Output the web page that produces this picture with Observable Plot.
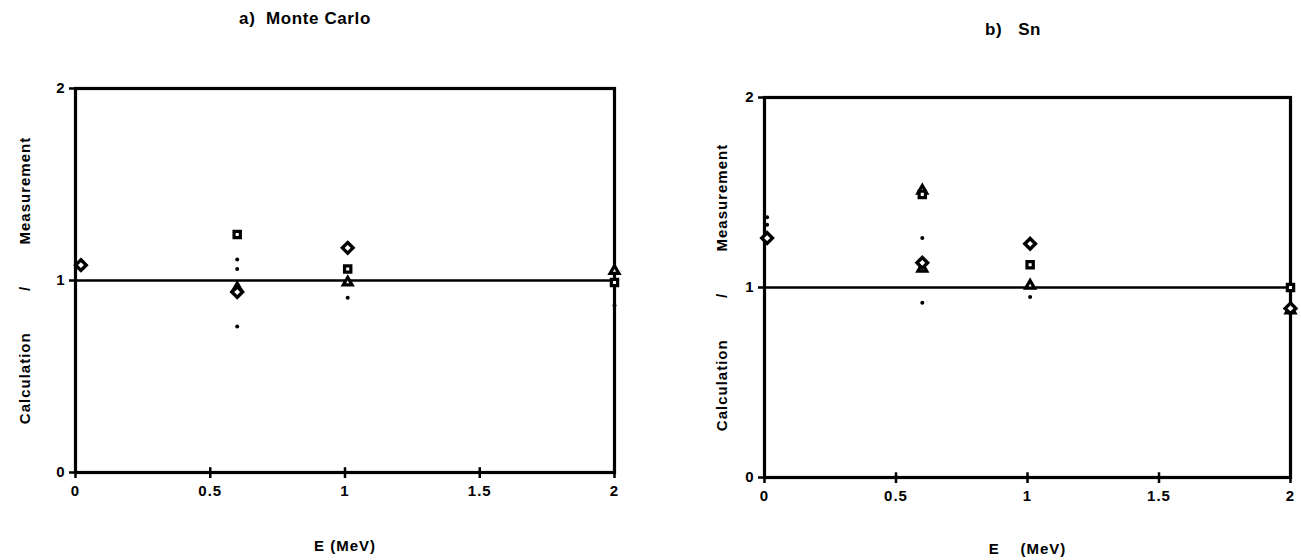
<!DOCTYPE html>
<html>
<head>
<meta charset="utf-8">
<script src="https://cdn.jsdelivr.net/npm/d3@7"></script>
<script src="https://cdn.jsdelivr.net/npm/@observablehq/plot@0.6"></script>
<style>
  html, body { margin: 0; padding: 0; background: #fff; }
  #wrap { position: relative; width: 1301px; height: 560px; overflow: hidden; font-family: "Liberation Sans", Arial, sans-serif; background: #fff; }
  .panel { position: absolute; top: 0; z-index: 1; }
  .title { position: absolute; z-index: 5; font-weight: bold; font-size: 17px; letter-spacing: 0.6px; white-space: pre; color: #000; transform: translateX(-50%); }
  #wrap svg text { font-weight: bold !important; font-size: 15px !important; letter-spacing: 1px; }
</style>
</head>
<body>
<div id="wrap">
  <div class="title" id="ta" style="left:305px; top:9px;">a)  Monte Carlo</div>
  <div class="title" id="tb" style="left:1013px; top:20px;">b)   Sn</div>
  <div class="panel" id="pa" style="left:0px;"></div>
  <div class="panel" id="pb" style="left:650px;"></div>
</div>
<script>
// ---------- data ----------
const xTicks = [0, 0.5, 1, 1.5, 2];
const xTickLabels = ["0", "0.5", "1", "1.5", "2"];
const yTicks = [0, 1, 2];
const yTickLabels = ["0", "1", "2"];

// a) Monte Carlo
const aDiamond  = [{e: 0.02, r: 1.08}, {e: 0.60, r: 0.94}, {e: 1.01, r: 1.17}];
const aSquare   = [{e: 0.60, r: 1.24}, {e: 1.01, r: 1.06}, {e: 2.00, r: 0.99}];
const aTriangle = [{e: 0.60, r: 0.96}, {e: 1.01, r: 0.99}, {e: 2.00, r: 1.05}];
const aDot      = [{e: 0.60, r: 1.11}, {e: 0.60, r: 1.06}, {e: 0.60, r: 0.76}, {e: 1.01, r: 0.91}, {e: 2.00, r: 0.87}];

// b) Sn
const bDiamond  = [{e: 0.01, r: 1.26}, {e: 0.60, r: 1.13}, {e: 1.01, r: 1.23}, {e: 2.00, r: 0.89}];
const bSquare   = [{e: 0.60, r: 1.49}, {e: 1.01, r: 1.12}, {e: 2.00, r: 1.00}];
const bTriangle = [{e: 0.60, r: 1.51}, {e: 0.60, r: 1.10}, {e: 1.01, r: 1.01}, {e: 2.00, r: 0.88}];
const bDot      = [{e: 0.01, r: 1.37}, {e: 0.01, r: 1.33}, {e: 0.60, r: 1.26}, {e: 0.60, r: 0.92}, {e: 1.01, r: 0.95}];

const yLabel = "Calculation        /        Measurement";

function panel(opts) {
  const {diamond, square, triangle, dot, width, mL, mR, mT, mB, yLabelOffset, xLabel, xLabelOffset} = opts;
  return Plot.plot({
    width, height: 560,
    marginLeft: mL, marginRight: mR, marginTop: mT, marginBottom: mB,
    style: {fontFamily: '"Liberation Sans", Arial, sans-serif', fontSize: "15px", fontWeight: "bold", color: "#000", background: "transparent", overflow: "visible"},
    x: {domain: [0, 2]},
    y: {domain: [0, 2]},
    marks: [
      Plot.ruleY([1], {stroke: "#000", strokeWidth: 2.5}),
      Plot.frame({stroke: "#000", strokeWidth: 3.2}),
      Plot.ruleX(xTicks, {x: d => d, y1: 0, y2: 0.025, stroke: "#000", strokeWidth: 2.5}),
      Plot.axisX({ticks: xTicks, tickFormat: (d, i) => xTickLabels[i], tickSize: 6, tickPadding: 7, strokeWidth: 2.5,
                  label: xLabel, labelAnchor: "center", labelArrow: "none", labelOffset: xLabelOffset}),
      Plot.axisY({ticks: yTicks, tickFormat: (d, i) => yTickLabels[i], tickSize: 6, tickPadding: 4, strokeWidth: 2.5,
                  label: yLabel, labelAnchor: "center", labelArrow: "none", labelOffset: yLabelOffset}),
      Plot.dot(dot, {x: "e", y: "r", r: 2, fill: "#000", stroke: "none"}),
      Plot.dot(triangle, {x: "e", y: "r", symbol: "triangle2", r: 4.2, stroke: "#000", strokeWidth: 3.2, fill: "#fff"}),
      Plot.dot(square, {x: "e", y: "r", symbol: "square2", r: 4, stroke: "#000", strokeWidth: 3.2, fill: "#fff"}),
      Plot.dot(diamond, {x: "e", y: "r", symbol: "diamond2", r: 4.8, stroke: "#000", strokeWidth: 3.4, fill: "#fff"})
    ]
  });
}

document.getElementById("pa").append(panel({
  diamond: aDiamond, square: aSquare, triangle: aTriangle, dot: aDot,
  width: 650, mL: 75, mR: 36, mT: 88, mB: 88, yLabelOffset: 56,
  xLabel: "E (MeV)", xLabelOffset: 78
}));
document.getElementById("pb").append(panel({
  diamond: bDiamond, square: bSquare, triangle: bTriangle, dot: bDot,
  width: 651, mL: 114, mR: 11, mT: 97, mB: 83, yLabelOffset: 48,
  xLabel: "E    (MeV)", xLabelOffset: 76
}));
</script>
</body>
</html>
